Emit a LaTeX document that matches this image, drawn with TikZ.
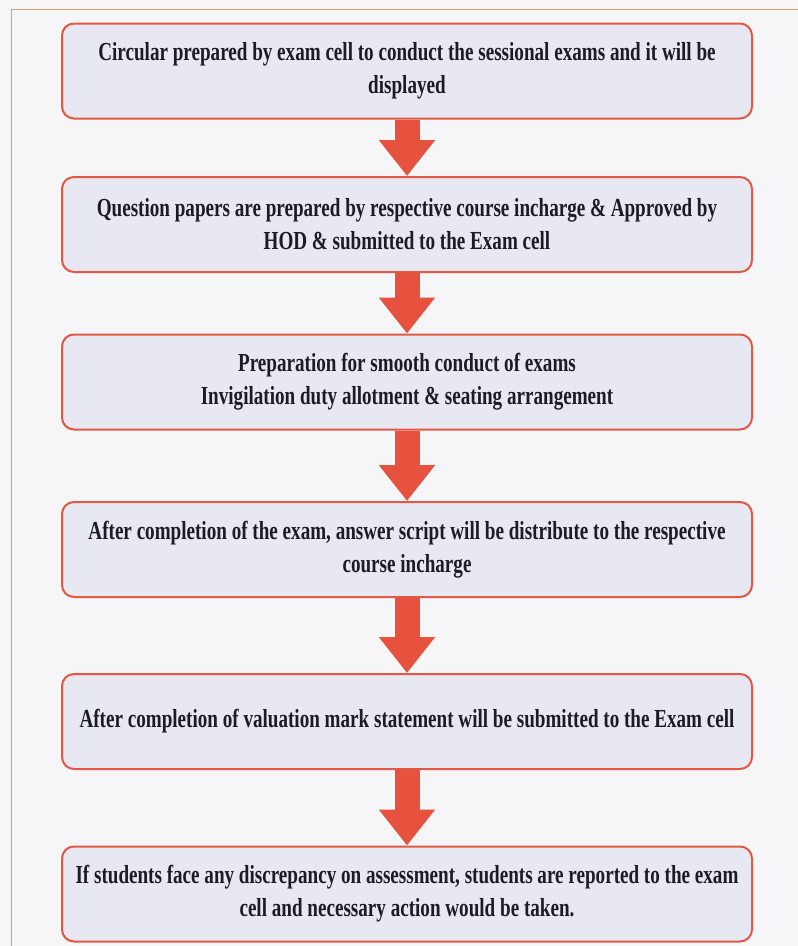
\documentclass[tikz,border=0pt]{standalone}
\usepackage{fontspec}
\setmainfont{Liberation Serif}[FakeStretch=0.735]
\usetikzlibrary{arrows.meta}

\definecolor{paper}{RGB}{246,246,248}
\definecolor{frameline}{RGB}{205,165,110}
\definecolor{stageborder}{RGB}{226,88,68}
\definecolor{stagefill}{RGB}{232,232,242}
\definecolor{flowred}{RGB}{230,82,62}
\definecolor{ink}{RGB}{28,28,36}

\begin{document}
\begin{tikzpicture}[x=1pt, y=-1pt]

\def\width{798}
\def\height{946}
\def\ox{407}

\tikzset{
	stage/.style={draw=stageborder, line width=2pt, fill=stagefill,
		rounded corners=12pt, minimum width=690pt, minimum height=95pt,
		align=center, text=ink, font=\fontsize{26}{33}\selectfont\bfseries},
	flow/.style={line width=25pt, draw=flowred,
		-{Triangle[width=54pt, length=36pt]}}
}

\path [use as bounding box, fill=paper] (0,0) rectangle (\width,\height);

% FRAME
\draw [line width=1pt, frameline] (11,\height) -- (11,9) -- (\width,9);

% STAGES
\node [stage] (s1) at (\ox,71)
	{Circular prepared by exam cell to conduct the sessional exams and it will be\\displayed};
\node [stage] (s2) at (\ox,224.5)
	{Question papers are prepared by respective course incharge \& Approved by\\HOD \& submitted to the Exam cell};
\node [stage] (s3) at (\ox,382)
	{Preparation for smooth conduct of exams\\Invigilation duty allotment \& seating arrangement};
\node [stage] (s4) at (\ox,549.5)
	{After completion of the exam, answer script will be distribute to the respective\\course incharge};
\node [stage] (s5) at (\ox,721.5)
	{After completion of valuation mark statement will be submitted to the Exam cell};
\node [stage] (s6) at (\ox,894)
	{If students face any discrepancy on assessment, students are reported to the exam\\cell and necessary action would be taken.};

% ARROWS
\foreach \a/\b in {s1/s2, s2/s3, s3/s4, s4/s5, s5/s6} {
	\draw [flow] (\a) -- (\b);
}

\end{tikzpicture}
\end{document}
